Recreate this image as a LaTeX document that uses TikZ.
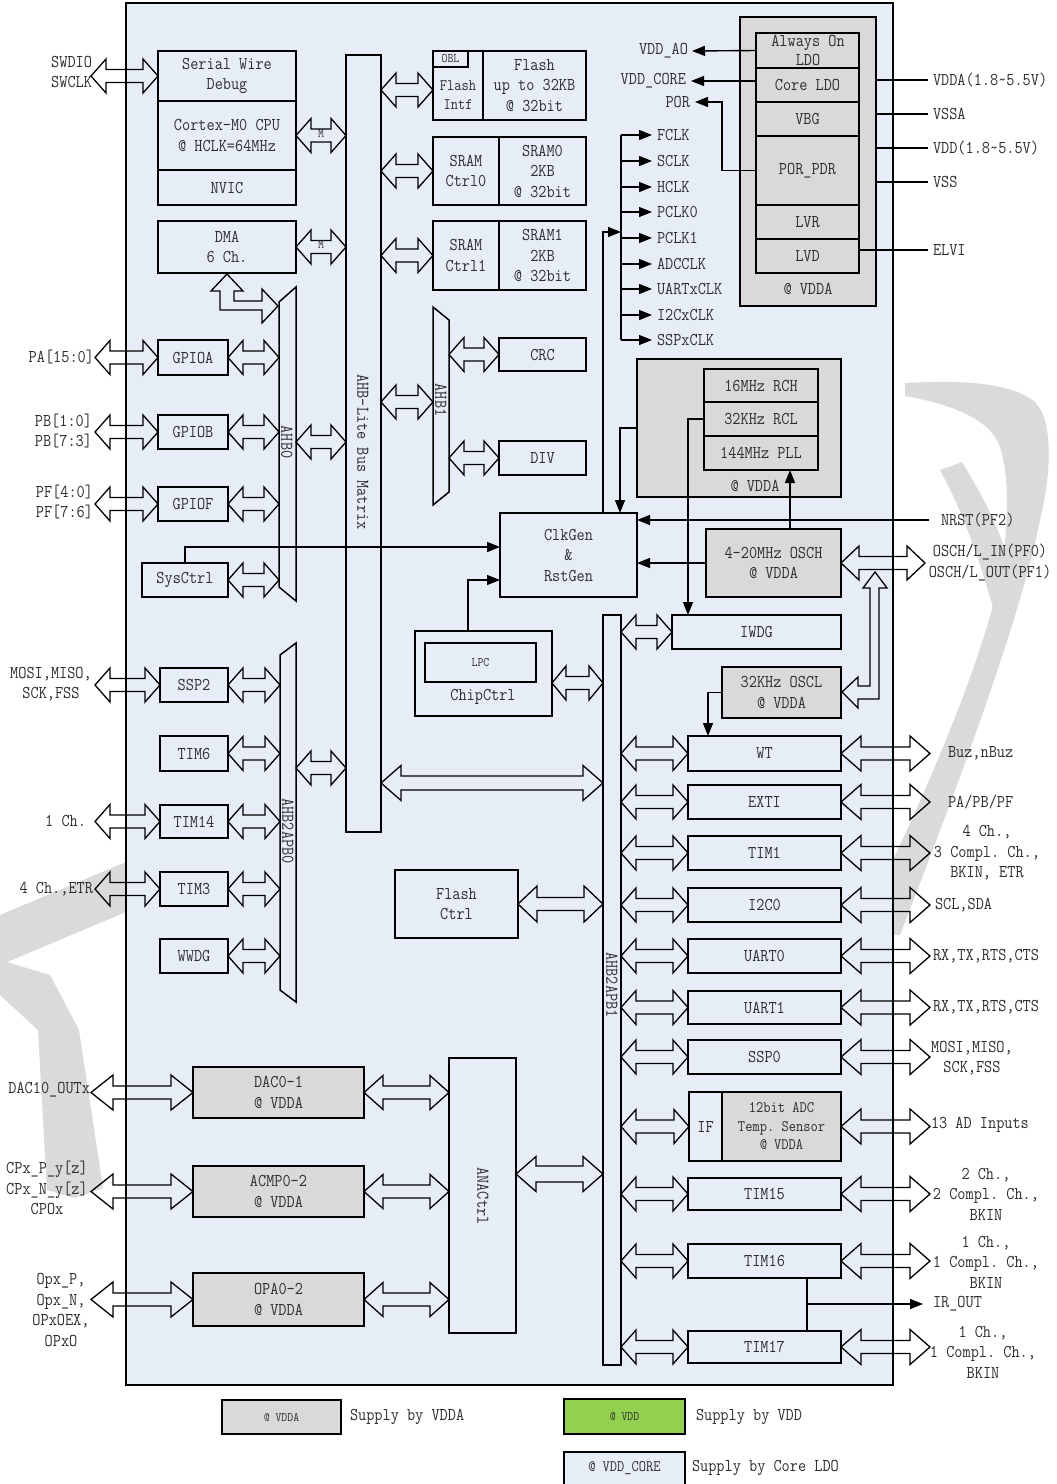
\documentclass[tikz,border=0pt]{standalone}
\usepackage{fontspec}
\setmonofont{Latin Modern Mono}[FakeStretch=0.88]
\usetikzlibrary{arrows.meta,calc}
\definecolor{bgblue}{HTML}{E6EDF7}
\definecolor{pgray}{HTML}{D9D9D9}
\definecolor{wm}{HTML}{DADADA}
\definecolor{vddgreen}{HTML}{92D050}
\definecolor{txt}{HTML}{2E2E2E}
\newcommand\mf{\ttfamily\fontsize{18pt}{20.5pt}\selectfont}
\newcommand\sm{\ttfamily\fontsize{16pt}{18.5pt}\selectfont}
\newcommand\xs{\ttfamily\fontsize{13pt}{14pt}\selectfont}
\tikzset{
  box/.style={draw,line width=1.5pt,fill=bgblue,inner sep=0pt,outer sep=0pt,align=center,text=txt},
  bar/.style={draw,line width=1.5pt,fill=bgblue},
  blk/.style={draw,line width=1.3pt,line join=miter},
  arr/.style={line width=1.4pt,-{Triangle[length=13pt,width=10pt]}},
  ln/.style={line width=1.4pt},
  lbl/.style={inner sep=0pt,outer sep=0pt,text=txt,align=center},
}
\newcommand\bx[7][]{\node[box,#1,minimum width={(#5-#3)*1pt},minimum height={(#6-#4)*1pt}] (#2) at ({(#3+#5)/2},{(#4+#6)/2}) {#7};}
\newcommand\barrowG[5]{\draw[blk] let \p1=#1, \p2=#2 in (\x1,\y1) -- (\x1+#5,\y1+#3) -- (\x1+#5,\y1+#4) -- (\x2-#5,\y1+#4) -- (\x2-#5,\y1+#3) -- (\x2,\y1) -- (\x2-#5,\y1-#3) -- (\x2-#5,\y1-#4) -- (\x1+#5,\y1-#4) -- (\x1+#5,\y1-#3) -- cycle;}
\newcommand\barr[2]{\barrowG{#1}{#2}{17}{6.5}{15}}
\newcommand\barrL[2]{\barrowG{#1}{#2}{17.5}{6.5}{20}}
\begin{document}
\begin{tikzpicture}[x=1pt,y=-1pt,font=\mf]
\useasboundingbox (0,0) rectangle (1057,1484);
\fill[white] (0,0) rectangle (1057,1484);
% watermark
\fill[wm] (905,383) .. controls (960,380) and (1010,382) .. (1035,402) .. controls (1055,422) and (1050,480) .. (1040,520) .. controls (1020,620) and (960,780) .. (900,935) -- (893,935) -- (893,860) .. controls (940,760) and (990,640) .. (1003,560) .. controls (1008,520) and (1010,470) .. (998,442) .. controls (985,415) and (940,402) .. (905,396) -- cycle;
\fill[wm] (940,470) -- (962,462) .. controls (985,500) and (1000,530) .. (1008,560) -- (995,615) .. controls (980,560) and (962,510) .. (940,470) -- cycle;
\fill[wm] (126,862) -- (126,912) -- (0,965) -- (0,915) -- cycle;
\fill[wm] (0,960) -- (50,975) -- (79,1030) -- (103,1188) -- (75,1198) -- (47,1190) -- (38,1030) -- (0,995) -- cycle;
% main chip box
\bx{chipbox}{126}{3}{893}{1385}{}
% CPU side
\bx{swd}{158}{51}{296}{101}{Serial Wire\\Debug}
\bx{cpu}{158}{101}{296}{170}{Cortex-M0 CPU\\@ HCLK=64MHz}
\bx{nvic}{158}{170}{296}{205}{NVIC}
\bx{dma}{158}{221}{296}{273}{DMA\\6 Ch.}
\bx{mat}{346}{55}{381}{832}{}
\node[lbl,rotate=-90] at (363,452) {AHB-Lite Bus Matrix};
% memories
\bx{flintf}{433}{51}{483}{120}{}
\node[lbl,font=\sm] at (458,95) {Flash\\Intf};
\bx{flmem}{483}{51}{586}{120}{Flash\\up to 32KB\\@ 32bit}
\bx[font=\xs]{obl}{433}{51}{468}{67}{OBL}
\bx{sc0}{433}{137}{499}{205}{SRAM\\Ctrl0}
\bx{sr0}{499}{137}{586}{205}{SRAM0\\2KB\\@ 32bit}
\bx{sc1}{433}{221}{499}{290}{SRAM\\Ctrl1}
\bx{sr1}{499}{221}{586}{290}{SRAM1\\2KB\\@ 32bit}
% AHB1
\draw[bar] (433,307) -- (449,320) -- (449,492) -- (433,505) -- cycle;
\node[lbl,rotate=-90] at (441,400) {AHB1};
\coordinate (ahb1L) at (433,0);
\coordinate (ahb1R) at (449,0);
\bx{crc}{499}{338}{586}{371}{CRC}
\bx{div}{499}{441}{586}{475}{DIV}
% AHB0
\draw[bar] (279,302) -- (296,287) -- (296,601) -- (279,587) -- cycle;
\node[lbl,rotate=-90] at (287,442) {AHB0};
\coordinate (ahb0L) at (279,0);
\coordinate (ahb0R) at (296,0);
\bx{gpa}{158}{340}{228}{375}{GPIOA}
\bx{gpb}{158}{415}{228}{449}{GPIOB}
\bx{gpf}{158}{487}{228}{521}{GPIOF}
\bx{sys}{142}{563}{228}{597}{SysCtrl}
% AHB2APB0
\draw[bar] (280,655) -- (296,643) -- (296,1002) -- (280,990) -- cycle;
\node[lbl,rotate=-90] at (288,831) {AHB2APB0};
\coordinate (apb0L) at (280,0);
\coordinate (apb0R) at (296,0);
\bx{ssp2}{160}{668}{228}{702}{SSP2}
\bx{tim6}{160}{736}{228}{771}{TIM6}
\bx{tim14}{160}{805}{228}{838}{TIM14}
\bx{tim3}{160}{872}{228}{906}{TIM3}
\bx{wwdg}{160}{939}{228}{973}{WWDG}
% middle
\bx{chip}{415}{631}{552}{716}{}
\bx[font=\xs]{lpc}{425}{643}{536}{682}{LPC}
\node[lbl] at (483,697) {ChipCtrl};
\bx{fctl}{395}{870}{518}{938}{Flash\\Ctrl}
\bx{apb1}{603}{615}{621}{1365}{}
\node[lbl,rotate=-90] at (612,985) {AHB2APB1};
\bx{clk}{500}{513}{637}{597}{ClkGen\\\&\\RstGen}
% power block
\bx[fill=pgray]{pwr}{740}{17}{876}{306}{}
\bx[fill=pgray]{aon}{756}{33}{859}{68}{}
\node[lbl,font=\ttfamily\fontsize{18pt}{19pt}\selectfont] at (808,50.5) {Always On\\LDO};
\bx[fill=pgray]{cldo}{756}{68}{859}{102}{Core LDO}
\bx[fill=pgray]{vbg}{756}{102}{859}{136}{VBG}
\bx[fill=pgray]{porpdr}{756}{136}{859}{205}{POR\_PDR}
\bx[fill=pgray]{lvr}{756}{205}{859}{239}{LVR}
\bx[fill=pgray]{lvd}{756}{239}{859}{273}{LVD}
\node[lbl] at (808,289) {@ VDDA};
% oscillators
\bx[fill=pgray]{osc}{637}{359}{841}{497}{}
\bx[fill=pgray]{rch}{704}{369}{818}{402}{16MHz RCH}
\bx[fill=pgray]{rcl}{704}{402}{818}{436}{32KHz RCL}
\bx[fill=pgray]{pll}{704}{436}{818}{470}{144MHz PLL}
\node[lbl] at (755,486) {@ VDDA};
\bx[fill=pgray]{osch}{706}{529}{841}{597}{4-20MHz OSCH\\@ VDDA}
\bx{iwdg}{672}{615}{841}{649}{IWDG}
\bx[fill=pgray]{oscl}{722}{667}{841}{718}{32KHz OSCL\\@ VDDA}
% APB1 peripherals
\bx{wt}{688}{736}{841}{771}{WT}
\bx{exti}{688}{785}{841}{819}{EXTI}
\bx{tim1}{688}{836}{841}{870}{TIM1}
\bx{i2c}{688}{888}{841}{922}{I2C0}
\bx{uart0}{688}{939}{841}{973}{UART0}
\bx{uart1}{688}{991}{841}{1024}{UART1}
\bx{ssp0}{688}{1040}{841}{1074}{SSP0}
\bx{adcif}{689}{1092}{722}{1161}{IF}
\bx[fill=pgray,font=\sm]{adc}{722}{1092}{841}{1161}{12bit ADC\\Temp. Sensor\\@ VDDA}
\bx{tim15}{688}{1178}{841}{1210}{TIM15}
\bx{tim16}{688}{1244}{841}{1278}{TIM16}
\bx{tim17}{688}{1331}{841}{1363}{TIM17}
% analog
\bx[fill=pgray]{dac}{193}{1067}{364}{1118}{DAC0-1\\@ VDDA}
\bx[fill=pgray]{acmp}{193}{1166}{364}{1217}{ACMP0-2\\@ VDDA}
\bx[fill=pgray]{opa}{193}{1273}{364}{1326}{OPA0-2\\@ VDDA}
\bx{ana}{449}{1058}{516}{1333}{}
\node[lbl,rotate=-90] at (483,1196) {ANACtrl};
% outside label coordinates
\coordinate (extL) at (95,0);
\coordinate (extLa) at (91,0);
\coordinate (extR) at (930,0);
\coordinate (oschR) at (925,0);
% left labels
\node[lbl,align=right,anchor=east] (swdl) at (92,72) {SWDIO\\SWCLK};
\node[lbl,anchor=east] (pal) at (94,357) {PA[15:0]};
\node[lbl,align=right,anchor=east] (pbl) at (92,431) {PB[1:0]\\PB[7:3]};
\node[lbl,align=right,anchor=east] (pfl) at (93,502) {PF[4:0]\\PF[7:6]};
\node[lbl] (ssp2l) at (51,684) {MOSI,MISO,\\SCK,FSS};
\node[lbl,anchor=east] (t14l) at (86,821) {1 Ch.};
\node[lbl,anchor=east] (t3l) at (93,889) {4 Ch.,ETR};
\node[lbl,anchor=east] (dacl) at (90,1090) {DAC10\_OUTx};
\node[lbl] (acmpl) at (47,1188) {CPx\_P\_y[z]\\CPx\_N\_y[z]\\CPOx};
\node[lbl] (opal) at (61,1310) {Opx\_P,\\Opx\_N,\\OPxOEX,\\OPxO};
% right labels
\node[lbl,anchor=east] (vddao) at (688,51) {VDD\_AO};
\node[lbl,anchor=east] (vddcore) at (686,81) {VDD\_CORE};
\node[lbl,anchor=east] (por) at (690,102) {POR};
\node[lbl,anchor=west] (vdda) at (933,80) {VDDA(1.8\textasciitilde5.5V)};
\node[lbl,anchor=west] (vssa) at (933,114) {VSSA};
\node[lbl,anchor=west] (vdd) at (933,148) {VDD(1.8\textasciitilde5.5V)};
\node[lbl,anchor=west] (vss) at (933,182) {VSS};
\node[lbl,anchor=west] (elvi) at (933,250) {ELVI};
\node[lbl,anchor=west] (nrst) at (941,520) {NRST(PF2)};
\node[lbl] (oschl) at (990,562.5) {OSCH/L\_IN(PF0)\\OSCH/L\_OUT(PF1)};
\node[lbl,anchor=west] (buz) at (948,753.5) {Buz,nBuz};
\node[lbl,anchor=west] (papbpf) at (948,802) {PA/PB/PF};
\node[lbl] (t1l) at (987,853) {4 Ch.,\\3 Compl. Ch.,\\BKIN, ETR};
\node[lbl,anchor=west] (scl) at (935,905) {SCL,SDA};
\node[lbl,anchor=west] (u0l) at (933,956) {RX,TX,RTS,CTS};
\node[lbl,anchor=west] (u1l) at (933,1007.5) {RX,TX,RTS,CTS};
\node[lbl] (s0l) at (972,1058) {MOSI,MISO,\\SCK,FSS};
\node[lbl,anchor=west] (adl) at (931,1125) {13 AD Inputs};
\node[lbl] (t15l) at (986,1194) {2 Ch.,\\2 Compl. Ch.,\\BKIN};
\node[lbl] (t16l) at (986,1262) {1 Ch.,\\1 Compl. Ch.,\\BKIN};
\node[lbl,anchor=west] (irl) at (933,1304) {IR\_OUT};
\node[lbl] (t17l) at (983,1352) {1 Ch.,\\1 Compl. Ch.,\\BKIN};
% clock outputs
\coordinate (ckbus) at (621,135);
\coordinate (ckbusb) at (621,340);
\draw[ln] (ckbus) -- (ckbusb);
\draw[arr] ([xshift=-34pt]clk.north east) |- (ckbus |- 0,232);
\foreach \nm/\tx/\yy in {fclk/FCLK/135,sclk/SCLK/161,hclk/HCLK/187,pclk0/PCLK0/212,pclk1/PCLK1/238,adcclk/ADCCLK/264,uartclk/UARTxCLK/289,i2cclk/I2CxCLK/315,sspclk/SSPxCLK/340}{
  \node[lbl,anchor=west] (\nm) at (657,\yy) {\tx};
  \draw[arr] (ckbus |- \nm.west) -- ([xshift=-5pt]\nm.west);
}
% power connections
\draw[arr] (aon.west) -- ([xshift=4pt]vddao.east);
\draw[arr] (cldo.west |- vddcore.east) -- ([xshift=5pt]vddcore.east);
\draw[arr] (porpdr.west) -- ++(-34,0) |- ([xshift=5pt]por.east);
\foreach \nm in {vdda,vssa,vdd,vss}{\draw[ln] (pwr.east |- \nm.west) -- ([xshift=-5pt]\nm.west);}
\draw[ln] (lvd.east |- elvi.west) -- ([xshift=-5pt]elvi.west);
% clock/reset connections
\draw[arr] (osc.west) -| ([xshift=-17pt]clk.north east);
\draw[arr] (rcl.west) -| ([xshift=16pt]iwdg.north west);
\draw[arr] ([xshift=16.5pt]osch.north) -- ([xshift=16.5pt]osch.north |- pll.south);
\draw[arr] ([xshift=-12pt]nrst.west) -- (clk.east |- nrst.west);
\draw[arr] (osch.west) -- (clk.east |- osch.west);
\draw[arr] (sys.north) |- ([yshift=8pt]clk.west);
\draw[arr] ([xshift=-15.5pt]chip.north) |- ([yshift=-25pt]clk.west);
\draw[arr] (oscl.west) -| ([xshift=20pt]wt.north west);
\coordinate (irj) at ([xshift=42.5pt]tim16.south |- irl.west);
\draw[ln] ([xshift=42.5pt]tim16.south) -- ([xshift=42.5pt]tim16.south |- tim17.north);
\draw[arr] (irj) -- ([xshift=-10pt]irl.west);
% block arrows: CPU side
\barr{(extLa |- swd.west)}{(swd.west)}
\barr{(cpu.east)}{(mat.west)}
\node[lbl,font=\xs] at (321,134) {M};
\barr{(dma.east)}{(mat.west)}
\node[lbl,font=\xs] at (321,245) {M};
\barr{(mat.east |- 0,90)}{(flintf.west)}
\barr{(mat.east |- sc0.west)}{(sc0.west)}
\barr{(mat.east |- sc1.west)}{(sc1.west)}
\barr{(mat.east |- 0,402)}{(ahb1L)}
\barr{(ahb1R |- crc.west)}{(crc.west)}
\barr{(ahb1R |- div.west)}{(div.west)}
% AHB0
\barr{(extL |- gpa.west)}{(gpa.west)}
\barr{(extL |- gpb.west)}{(gpb.west)}
\barr{(extL |- gpf.west)}{(gpf.west)}
\barr{(gpa.east)}{(ahb0L)}
\barr{(gpb.east)}{(ahb0L)}
\barr{(gpf.east)}{(ahb0L)}
\barr{(sys.east)}{(ahb0L)}
\barr{(ahb0R |- 0,442)}{(mat.west)}
\draw[blk] (227,274) -- (243,291) -- (234,291) -- (234,301) -- (262,301) -- (262,289) -- (278,306) -- (262,323) -- (262,310) -- (220,310) -- (220,291) -- (211,291) -- cycle;
% APB0
\barr{(extL |- ssp2.west)}{(ssp2.west)}
\barr{(extL |- tim14.west)}{(tim14.west)}
\barr{(extL |- tim3.west)}{(tim3.west)}
\foreach \nm in {ssp2,tim6,tim14,tim3,wwdg}{\barr{(\nm.east)}{(apb0L)}}
\barr{(apb0R |- 0,768)}{(mat.west)}
% middle
\barrowG{(mat.east |- 0,783)}{(apb1.west)}{17.5}{7}{20}
\barrowG{(chip.east |- 0,683)}{(apb1.west)}{17}{6.5}{14}
\barrowG{(fctl.east)}{(apb1.west)}{18}{6.5}{19}
\barrowG{(ana.east |- 0,1174)}{(apb1.west)}{17.5}{8}{20}
% APB1 side
\barr{(apb1.east |- iwdg.west)}{(iwdg.west)}
\foreach \nm in {wt,exti,tim1,i2c,uart0,uart1,ssp0,adcif,tim15,tim16,tim17}{\barr{(apb1.east |- \nm.west)}{(\nm.west)}}
\foreach \nm in {wt,exti,tim1,i2c,uart0,uart1,ssp0,adc,tim15,tim16,tim17}{\barrL{(\nm.east)}{(extR)}}
\barrowG{(osch.east)}{(oschR)}{17}{6.5}{18}
\draw[blk] (842,692) -- (858,677) -- (858,686) -- (870,686) -- (870,588) -- (863,588) -- (875,572) -- (887,588) -- (879,588) -- (879,699) -- (858,699) -- (858,708) -- cycle;
% analog
\barrowG{(extLa |- dac.west)}{(dac.west)}{17.5}{6.5}{22}
\barrowG{(extLa |- acmp.west)}{(acmp.west)}{17.5}{6.5}{22}
\barrowG{(extLa |- opa.west)}{(opa.west)}{17.5}{6.5}{22}
\barrowG{(dac.east)}{(ana.west)}{17}{6.5}{19}
\barrowG{(acmp.east)}{(ana.west)}{17}{6.5}{19}
\barrowG{(opa.east)}{(ana.west)}{17}{6.5}{19}
% legend
\bx[fill=pgray,font=\xs]{lg1}{222}{1400}{341}{1434}{@ VDDA}
\node[lbl,anchor=west] at (350,1417) {Supply by VDDA};
\bx[fill=vddgreen,font=\xs]{lg2}{564}{1399}{685}{1434}{@ VDD}
\node[lbl,anchor=west] at (696,1417) {Supply by VDD};
\bx{lg3}{564}{1452}{685}{1495}{}
\node[lbl,font=\sm] at (624.5,1468) {@ VDD\_CORE};
\node[lbl,anchor=west] at (692,1468) {Supply by Core LDO};
\end{tikzpicture}
\end{document}
